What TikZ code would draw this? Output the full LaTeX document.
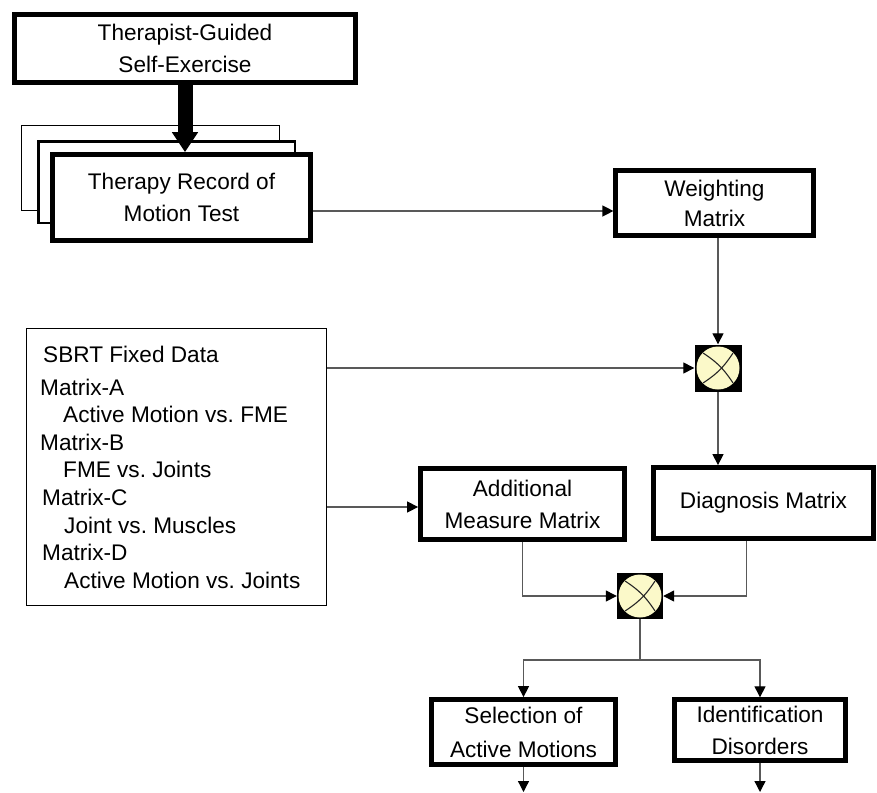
\documentclass[tikz,border=0pt]{standalone}
\usepackage{fontspec}
\setmainfont{Liberation Sans}
\usetikzlibrary{arrows.meta,calc}
\definecolor{multfill}{HTML}{FBF9C9}
\frenchspacing
\begin{document}
\frenchspacing
\begin{tikzpicture}[x=1pt,y=-1pt,
  thickbox/.style={draw=black, line width=4.8pt, fill=white, inner sep=0pt, align=center},
  thinbox/.style={draw=black, line width=1.4pt, fill=white, inner sep=0pt},
  conn/.style={draw=black!65, line width=1.3pt, -{Triangle[length=11pt,width=11pt,color=black]}},
  plainline/.style={draw=black!65, line width=1.3pt},
  bigarrow/.style={draw=black, line width=15pt, -{Triangle[length=20pt,width=25pt]}},
  mult/.style={fill=black, minimum size=#1, inner sep=0pt,
    path picture={
      \coordinate (pc) at (path picture bounding box.center);
      \fill[multfill] (pc) circle[radius=21.5pt];
      \draw[line width=1.1pt, black!85] ($(pc)+(-15,-15)$) to[bend left=12] ($(pc)+(15,15)$);
      \draw[line width=1.1pt, black!85] ($(pc)+(15,-15)$) to[bend left=12] ($(pc)+(-15,15)$);
    }},
  mult/.default=47pt
]
\useasboundingbox (0,0) rectangle (877,792);
\fill[white] (0,0) rectangle (877,792);

% top box
\node[thickbox, minimum width=341pt, minimum height=68pt, font=\fontsize{22.6}{32}\selectfont]
  (top) at (185,48.5) {Therapist-Guided\\Self-Exercise};

% stacked record boxes
\node[thinbox, minimum width=257.6pt, minimum height=84.6pt] (back) at (150.5,168) {};
\node[thinbox, line width=2.5pt, minimum width=256.5pt, minimum height=81.5pt] (mid) at (166.5,182) {};
\node[thickbox, minimum width=258pt, minimum height=86pt, font=\fontsize{22.6}{32}\selectfont]
  (front) at (181.5,197.5) {Therapy Record of\\Motion Test};

% weighting
\node[thickbox, line width=4.2pt, minimum width=198pt, minimum height=65pt, font=\fontsize{22.6}{30}\selectfont]
  (weight) at (714.5,203) {Weighting\\Matrix};

% multipliers
\node[mult] (m1) at (718,368) {};
\node[mult=46pt] (m2) at (640,596) {};

% SBRT box
\node[thinbox, minimum width=299.6pt, minimum height=276.6pt] (sbrt) at (176.5,467) {};
\node[anchor=north west, inner sep=0pt, align=left, font=\fontsize{22.6}{27.6}\selectfont]
  (sbrttxt) at (40,346) {\hspace*{3pt}SBRT Fixed Data\\[5pt]Matrix-A\\\hspace*{23pt}Active Motion vs. FME\\Matrix-B\\\hspace*{23pt}FME vs. Joints\\\hspace*{2pt}Matrix-C\\\hspace*{24pt}Joint vs. Muscles\\\hspace*{2pt}Matrix-D\\\hspace*{24pt}Active Motion vs. Joints};

% additional & diagnosis
\node[thickbox, minimum width=204pt, minimum height=71pt, font=\fontsize{22.6}{32}\selectfont]
  (add) at (522.5,504) {Additional\\Measure Matrix};
\node[thickbox, minimum width=220pt, minimum height=71pt, font=\fontsize{22.6}{32}\selectfont]
  (diag) at (763.5,503) {Diagnosis Matrix};

% outputs
\node[thickbox, minimum width=184pt, minimum height=65pt, font=\fontsize{22.6}{34}\selectfont]
  (sel) at (523.5,732) {Selection of\\Active Motions};
\node[thickbox, line width=4.4pt, minimum width=171pt, minimum height=61pt, font=\fontsize{22.6}{32}\selectfont]
  (ident) at (760,730) {Identification\\Disorders};

% connectors
\draw[bigarrow] (top.south) -- (top.south |- front.north);
\path (front.east) ++(0,13.5) coordinate (c1);
\draw[conn] (c1) -- (c1 -| weight.west);
\draw[conn] (m1.north |- weight.south) -- (m1.north);
\draw[conn] (sbrt.east |- m1.west) -- (m1.west);
\path (add.west) ++(0,3) coordinate (c2);
\draw[conn] (sbrt.east |- c2) -- (c2);
\draw[conn] (m1.south) -- (m1.south |- diag.north);
\draw[conn] (add.south) |- (m2.west);
\draw[conn] ([xshift=-17pt]diag.south) |- (m2.east);
\coordinate (split) at (640,660);
\draw[plainline] (m2.south) -- (split);
\draw[conn] (split) -| (sel.north);
\draw[conn] (split) -| (ident.north);
\coordinate (e1) at (523.5,792);
\coordinate (e2) at (760,792);
\draw[conn] (sel.south) -- (e1);
\draw[conn] (ident.south) -- (e2);
\end{tikzpicture}
\end{document}
